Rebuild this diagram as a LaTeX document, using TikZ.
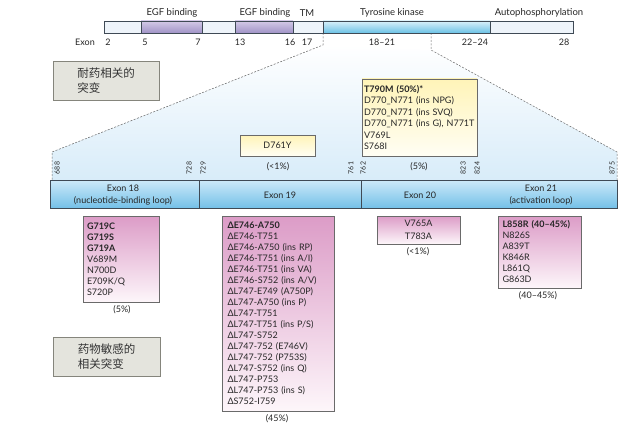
\documentclass[tikz,border=0pt]{standalone}
\usepackage{fontspec}
\setmainfont{Lato}
\newfontfamily\cjk{Noto Sans CJK SC}
\definecolor{txt}{HTML}{262626}
\definecolor{segline}{HTML}{3F4A55}
\definecolor{seglight}{HTML}{EEF4FA}
\definecolor{purtop}{HTML}{D3C9E7}
\definecolor{purbot}{HTML}{A194C7}
\definecolor{tktop}{HTML}{D8F1FA}
\definecolor{tkbot}{HTML}{6CC2E6}
\definecolor{exontop}{HTML}{CDEAF9}
\definecolor{exonbot}{HTML}{74C0E8}
\definecolor{pinktop}{HTML}{DC9CC7}
\definecolor{pinkbot}{HTML}{FDF6FA}
\definecolor{yeltop}{HTML}{FFF4B8}
\definecolor{yelbot}{HTML}{FFFEF4}
\definecolor{labfill}{HTML}{E4E4DD}
\definecolor{labline}{HTML}{85857C}
\definecolor{boxline}{HTML}{6A6A6A}
\definecolor{regionblue}{HTML}{D8ECF9}
\begin{document}
\begin{tikzpicture}[x=1pt,y=-1pt,
  every node/.style={text=txt, font=\fontsize{9}{11}\selectfont},
  seg/.style={draw=segline, line width=0.6pt, inner sep=0pt, outer sep=0pt, anchor=north west, minimum height=12pt},
  lightseg/.style={seg, fill=seglight},
  purseg/.style={seg, top color=purtop, bottom color=purbot},
  tkseg/.style={seg, top color=tktop, bottom color=tkbot},
  toplab/.style={font=\fontsize{9.5}{11}\selectfont},
  num/.style={rotate=90, font=\fontsize{7}{7}\selectfont, inner sep=0pt},
  pinkbox/.style={draw=boxline, line width=0.6pt, top color=pinktop, bottom color=pinkbot, anchor=north west, inner sep=0pt, outer sep=0pt, font=\fontsize{9}{11}\selectfont},
  yelbox/.style={draw=boxline, line width=0.6pt, top color=yeltop, bottom color=yelbot, anchor=north west, inner sep=0pt, outer sep=0pt, font=\fontsize{9}{11.4}\selectfont},
  labbox/.style={draw=labline, line width=0.8pt, fill=labfill, anchor=north west, inner sep=0pt, outer sep=0pt, align=left, font=\cjk\fontsize{11.5}{15.5}\selectfont, text=black!80},
  dashline/.style={draw=black!60, dashed, dash pattern=on 2pt off 1.5pt, line width=0.5pt}
]
\useasboundingbox (0,0) rectangle (640,428);

% region between dashed lines
\coordinate (l1) at (323,33);
\coordinate (l2) at (323,45);
\coordinate (l3) at (52,152);
\coordinate (l4) at (52,180);
\coordinate (r1) at (431,33);
\coordinate (r2) at (431,50);
\coordinate (r3) at (617,152);
\coordinate (r4) at (617,180);
\shade[top color=white, bottom color=regionblue] (l2) -- (l3) -- (l4) -- (r4) -- (r3) -- (r2) -- cycle;
\draw[dashline] (l1) -- (l2) -- (l3) -- (l4);
\draw[dashline] (r1) -- (r2) -- (r3) -- (r4);

% top protein bar
\node[lightseg, minimum width=37pt] (s1) at (104,21) {};
\node[purseg, minimum width=61pt] (s2) at (141,21) {};
\node[lightseg, minimum width=33pt] (s3) at (202,21) {};
\node[purseg, minimum width=58pt] (s4) at (235,21) {};
\node[lightseg, minimum width=30pt] (s5) at (293,21) {};
\node[tkseg, minimum width=167pt] (s6) at (323,21) {};
\node[lightseg, minimum width=83pt] (s7) at (490,21) {};

\node[toplab] (t1) at (172,13) {EGF binding};
\node[toplab] (t2) at (265,13) {EGF binding};
\node[toplab] (t3) at (307,13) {TM};
\node[toplab] (t4) at (392,13) {Tyrosine kinase};
\node[toplab] (t5) at (539,13) {Autophosphorylation};

\node (x0) at (85,42) {Exon};
\node (x1) at (108,42) {2};
\node (x2) at (145,42) {5};
\node (x3) at (198,42) {7};
\node (x4) at (240,42) {13};
\node (x5) at (290,42) {16};
\node (x6) at (307,42) {17};
\node (x7) at (382,42) {18--21};
\node (x8) at (475,42) {22--24};
\node (x9) at (564,42) {28};

% label boxes
\node[labbox, minimum width=106pt, minimum height=39pt] (lab1) at (53,61) {耐药相关的\\突变};
\node[labbox, minimum width=107pt, minimum height=39pt] (lab2) at (53,337) {药物敏感的\\相关突变};

% resistance boxes
\node[yelbox, minimum width=115pt, minimum height=77pt, text width=111pt, align=left] (res) at (362,79)
 {\textbf{T790M (50\%)*}\\D770\_N771 (ins NPG)\\D770\_N771 (ins SVQ)\\D770\_N771 (ins G), N771T\\V769L\\S768I};
\node (resp) at (419,167) {(5\%)};
\node[yelbox, minimum width=75pt, minimum height=21pt, align=center] (d761) at (240,135) {D761Y};
\node (d761p) at (278,167) {(<1\%)};

% residue numbers
\node[num] (n688) at (57,168) {688};
\node[num] (n728) at (189,168) {728};
\node[num] (n729) at (203,168) {729};
\node[num] (n761) at (351,168) {761};
\node[num] (n762) at (363,168) {762};
\node[num] (n823) at (463,168) {823};
\node[num] (n824) at (477,168) {824};
\node[num] (n875) at (612,168) {875};

% exon bar
\node[draw=segline, line width=0.7pt, top color=exontop, bottom color=exonbot, anchor=north west, inner sep=0pt, outer sep=0pt, minimum width=567pt, minimum height=28pt] (bar) at (50,180) {};
\coordinate (d1t) at (199,180); \coordinate (d1b) at (199,208);
\coordinate (d2t) at (361,180); \coordinate (d2b) at (361,208);
\draw[segline, line width=0.5pt] (d1t) -- (d1b);
\draw[segline, line width=0.5pt] (d2t) -- (d2b);
\node[align=center, font=\fontsize{9}{11.5}\selectfont] (e18) at (123,195) {Exon 18\\(nucleotide-binding loop)};
\node (e19) at (280,195) {Exon 19};
\node (e20) at (420,195) {Exon 20};
\node[align=center, font=\fontsize{9}{11.5}\selectfont] (e21) at (541,195) {Exon 21\\(activation loop)};

% sensitising boxes
\node[pinkbox, minimum width=76pt, minimum height=86pt, text width=68pt, align=left] (b18) at (83,216)
 {\textbf{G719C}\\\textbf{G719S}\\\textbf{G719A}\\V689M\\N700D\\E709K/Q\\S720P};
\node (b18p) at (122,310) {(5\%)};

\node[pinkbox, minimum width=112pt, minimum height=195pt, text width=101pt, align=left] (b19) at (222,216)
 {\textbf{ΔE746-A750}\\ΔE746-T751\\ΔE746-A750 (ins RP)\\ΔE746-T751 (ins A/I)\\ΔE746-T751 (ins VA)\\ΔE746-S752 (ins A/V)\\ΔL747-E749 (A750P)\\ΔL747-A750 (ins P)\\ΔL747-T751\\ΔL747-T751 (ins P/S)\\ΔL747-S752\\ΔL747-752 (E746V)\\ΔL747-752 (P753S)\\ΔL747-S752 (ins Q)\\ΔL747-P753\\ΔL747-P753 (ins S)\\ΔS752-I759};
\node (b19p) at (277,419) {(45\%)};

\node[pinkbox, minimum width=83pt, minimum height=28pt, align=center, font=\fontsize{9}{13}\selectfont] (b20) at (377,216) {V765A\\T783A};
\node (b20p) at (418,252) {(<1\%)};

\node[pinkbox, minimum width=83pt, minimum height=72pt, text width=74pt, align=left] (b21) at (498,216)
 {\textbf{L858R (40--45\%)}\\N826S\\A839T\\K846R\\L861Q\\G863D};
\node (b21p) at (538,296) {(40--45\%)};
\end{tikzpicture}
\end{document}
